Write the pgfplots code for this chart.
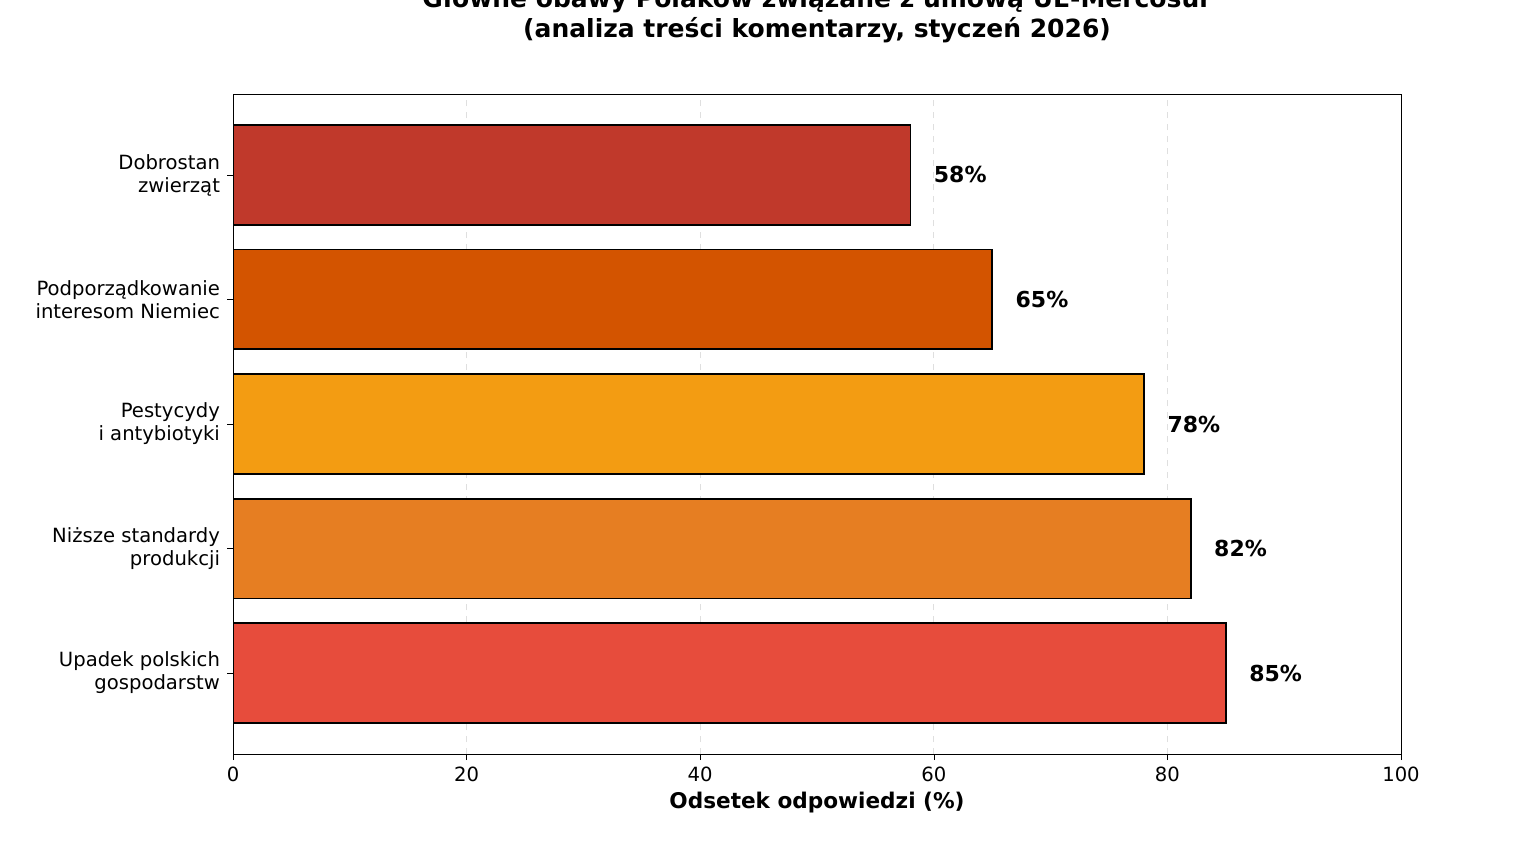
\documentclass[border=0pt]{standalone}
\usepackage{pgfplots}
\pgfplotsset{compat=1.18}
\usepackage{fontspec}
\setmainfont{DejaVu Sans}
\definecolor{c0}{HTML}{E74C3C}
\definecolor{c1}{HTML}{E67E22}
\definecolor{c2}{HTML}{F39C12}
\definecolor{c3}{HTML}{D35400}
\definecolor{c4}{HTML}{C0392B}
\begin{document}
\begin{tikzpicture}
\path[use as bounding box] (0,0) rectangle (760.5pt,429.5pt);
\begin{axis}[at={(116.5pt,52.5pt)},anchor=south west,scale only axis,
 width=584pt,height=330pt,
 xbar, bar width=0.8, bar shift=0pt,
 xmin=0,xmax=100,ymin=-0.65,ymax=4.65,
 xtick={0,20,...,100}, ytick={0,1,2,3,4},
 xtick pos=bottom, ytick pos=left,
 yticklabels={{Upadek polskich\\gospodarstw},{Niższe standardy\\produkcji},{Pestycydy\\i antybiotyki},{Podporządkowanie\\interesom Niemiec},{Dobrostan\\zwierząt}},
 yticklabel style={align=right,font=\fontsize{9.8}{11.5}\selectfont},
 xticklabel style={font=\fontsize{9.8}{11.5}\selectfont},
 /pgf/number format/assume math mode=true,
 tick align=outside, tick style={black}, major tick length=3pt,
 xmajorgrids, grid style={dashed,gray!25},
 axis line style={black},
 xlabel={\bfseries Odsetek odpowiedzi (\%)},
 xlabel style={font=\fontsize{10.8}{12}\selectfont,yshift=2pt},
 title={\bfseries Główne obawy Polaków związane z umową UE-Mercosur\\\bfseries (analiza treści komentarzy, styczeń 2026)},
 title style={align=center,font=\fontsize{12.5}{15}\selectfont,at={(0.5,1)},anchor=south,yshift=16pt},
 nodes near coords={\pgfmathprintnumber{\pgfplotspointmeta}\%},
 point meta=explicit,
 nodes near coords style={font=\bfseries\fontsize{11}{13}\selectfont,anchor=west,xshift=8pt},
]
\addplot[fill=c0,draw=black,line width=0.8pt] coordinates {(85,0) [85]};
\addplot[fill=c1,draw=black,line width=0.8pt] coordinates {(82,1) [82]};
\addplot[fill=c2,draw=black,line width=0.8pt] coordinates {(78,2) [78]};
\addplot[fill=c3,draw=black,line width=0.8pt] coordinates {(65,3) [65]};
\addplot[fill=c4,draw=black,line width=0.8pt] coordinates {(58,4) [58]};
\end{axis}
\end{tikzpicture}
\end{document}
